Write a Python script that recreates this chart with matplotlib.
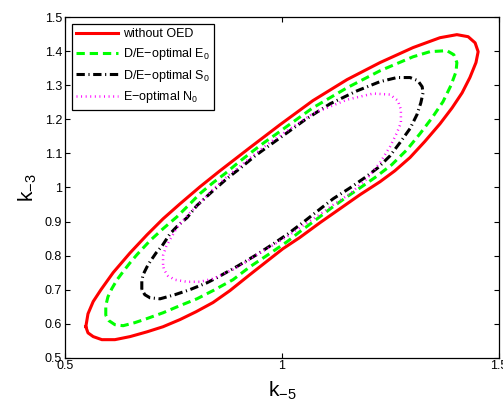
import numpy as np
import matplotlib
matplotlib.use("Agg")
import matplotlib.pyplot as plt

plt.rcParams["font.family"] = ["Liberation Sans", "DejaVu Sans"]
plt.rcParams["mathtext.fontset"] = "custom"
plt.rcParams["mathtext.rm"] = "Liberation Sans"
plt.rcParams["mathtext.it"] = "Liberation Sans:italic"
plt.rcParams["lines.scale_dashes"] = False

# confidence regions (k_-5, k_-3)
red_x = [0.548, 0.553, 0.565, 0.583, 0.611, 0.650, 0.689, 0.726, 0.765, 0.811, 0.857, 0.926, 0.995,
         1.071, 1.150, 1.226, 1.302, 1.364, 1.403, 1.429, 1.445, 1.452, 1.447, 1.433, 1.415, 1.392,
         1.364, 1.329, 1.295, 1.260, 1.226, 1.180, 1.134, 1.088, 1.041, 1.002, 0.961, 0.926, 0.880,
         0.841, 0.802, 0.765, 0.726, 0.689, 0.650, 0.615, 0.585, 0.565, 0.553]
red_y = [0.591, 0.629, 0.665, 0.700, 0.750, 0.808, 0.861, 0.908, 0.952, 1.002, 1.049, 1.117, 1.184,
         1.255, 1.317, 1.367, 1.411, 1.440, 1.449, 1.443, 1.425, 1.399, 1.367, 1.323, 1.278, 1.234,
         1.187, 1.135, 1.088, 1.049, 1.017, 0.979, 0.938, 0.897, 0.853, 0.820, 0.779, 0.744, 0.697,
         0.662, 0.635, 0.612, 0.591, 0.576, 0.562, 0.553, 0.553, 0.562, 0.573]

green_x = [0.594, 0.594, 0.599, 0.608, 0.620, 0.634, 0.650, 0.666, 0.696, 0.726, 0.758, 0.788, 0.811,
           0.841, 0.869, 0.899, 0.931, 0.959, 0.988, 1.014, 1.071, 1.150, 1.226, 1.302, 1.341, 1.380,
           1.396, 1.403, 1.401, 1.389, 1.371, 1.346, 1.318, 1.288, 1.253, 1.214, 1.180, 1.150, 1.115,
           1.081, 1.041, 1.012, 0.972, 0.926, 0.887, 0.841, 0.804, 0.765, 0.726, 0.689, 0.661, 0.634,
           0.615, 0.601]
green_y = [0.623, 0.653, 0.679, 0.703, 0.729, 0.753, 0.779, 0.803, 0.844, 0.879, 0.914, 0.952, 0.982,
           1.014, 1.041, 1.073, 1.105, 1.132, 1.158, 1.182, 1.234, 1.293, 1.343, 1.384, 1.399, 1.402,
           1.390, 1.367, 1.340, 1.299, 1.252, 1.205, 1.158, 1.111, 1.067, 1.029, 0.999, 0.973, 0.941,
           0.908, 0.870, 0.841, 0.806, 0.767, 0.729, 0.697, 0.673, 0.653, 0.632, 0.615, 0.603, 0.594,
           0.597, 0.609]

black_x = [0.677, 0.677, 0.680, 0.689, 0.696, 0.710, 0.724, 0.742, 0.760, 0.781, 0.804, 0.839, 0.873,
           0.908, 0.938, 0.977, 1.012, 1.053, 1.111, 1.173, 1.226, 1.265, 1.295, 1.313, 1.323, 1.325,
           1.320, 1.311, 1.295, 1.272, 1.249, 1.221, 1.191, 1.157, 1.118, 1.083, 1.048, 1.014, 0.977,
           0.942, 0.899, 0.850, 0.827, 0.788, 0.753, 0.719, 0.696, 0.684]
black_y = [0.700, 0.726, 0.744, 0.767, 0.782, 0.808, 0.829, 0.864, 0.888, 0.911, 0.947, 0.988, 1.026,
           1.061, 1.093, 1.129, 1.161, 1.199, 1.246, 1.284, 1.311, 1.323, 1.323, 1.314, 1.296, 1.278,
           1.249, 1.214, 1.173, 1.132, 1.093, 1.058, 1.029, 0.999, 0.967, 0.932, 0.897, 0.864, 0.832,
           0.803, 0.770, 0.735, 0.720, 0.700, 0.685, 0.673, 0.676, 0.685]

pink_x = [0.726, 0.726, 0.733, 0.742, 0.758, 0.788, 0.811, 0.841, 0.873, 0.908, 0.938, 0.972, 1.002,
          1.071, 1.150, 1.210, 1.249, 1.267, 1.274, 1.274, 1.265, 1.249, 1.226, 1.196, 1.157, 1.118,
          1.083, 1.048, 1.014, 0.977, 0.942, 0.922, 0.887, 0.841, 0.811, 0.781, 0.753, 0.737, 0.728]
pink_y = [0.773, 0.800, 0.826, 0.847, 0.882, 0.926, 0.955, 0.994, 1.032, 1.067, 1.099, 1.132, 1.158,
          1.217, 1.258, 1.276, 1.273, 1.255, 1.229, 1.190, 1.161, 1.120, 1.073, 1.026, 0.982, 0.949,
          0.917, 0.888, 0.858, 0.829, 0.803, 0.785, 0.759, 0.732, 0.723, 0.723, 0.729, 0.741, 0.759]

labels = ["without OED", "D/E\u2212optimal E$_0$", "D/E\u2212optimal S$_0$", "E\u2212optimal N$_0$"]
xticks = [0.5, 1, 1.5]
xticklabels = ["0.5", "1", "1.5"]
yticks = [0.5, 0.6, 0.7, 0.8, 0.9, 1.0, 1.1, 1.2, 1.3, 1.4, 1.5]
yticklabels = ["0.5", "0.6", "0.7", "0.8", "0.9", "1", "1.1", "1.2", "1.3", "1.4", "1.5"]


def closed(a):
    return np.r_[a, a[:1]]


fig = plt.figure(figsize=(5.03, 4.03), dpi=100)
ax = fig.add_axes([0.1292, 0.1124, 0.8628, 0.8447])

ax.plot(closed(red_x), closed(red_y), color="#ff0000", lw=2.2, label=labels[0])
ax.plot(closed(green_x), closed(green_y), color="#00ff00", lw=2.2,
        linestyle=(0, (6, 3.5)), label=labels[1])
ax.plot(closed(black_x), closed(black_y), color="black", lw=2.2,
        linestyle=(0, (6, 2.6, 0.8, 2.6)), label=labels[2])
ax.plot(closed(pink_x), closed(pink_y), color="#ff00ff", lw=1.8,
        linestyle=(0, (0.7, 2.6)), label=labels[3])

ax.set_xlim(0.5, 1.5)
ax.set_ylim(0.5, 1.5)
ax.set_xticks(xticks)
ax.set_xticklabels(xticklabels)
ax.set_yticks(yticks)
ax.set_yticklabels(yticklabels)
ax.tick_params(direction="in", length=3.5, width=0.8, top=True, right=True,
               labelsize=9, pad=2)
for s in ax.spines.values():
    s.set_linewidth(0.9)

ax.set_xlabel(r"$\mathregular{k_{-5}}$", fontsize=15, labelpad=5)
ax.set_ylabel(r"$\mathregular{k_{-3}}$", fontsize=15, labelpad=4)

leg = ax.legend(loc="upper left", bbox_to_anchor=(0.016, 0.98), borderaxespad=0,
                fontsize=9, handlelength=3.3, handletextpad=0.4, labelspacing=0.45,
                borderpad=0.35, fancybox=False, framealpha=1)
leg.get_frame().set_edgecolor("black")
leg.get_frame().set_linewidth(0.9)

fig.savefig("out.png", dpi=100)
